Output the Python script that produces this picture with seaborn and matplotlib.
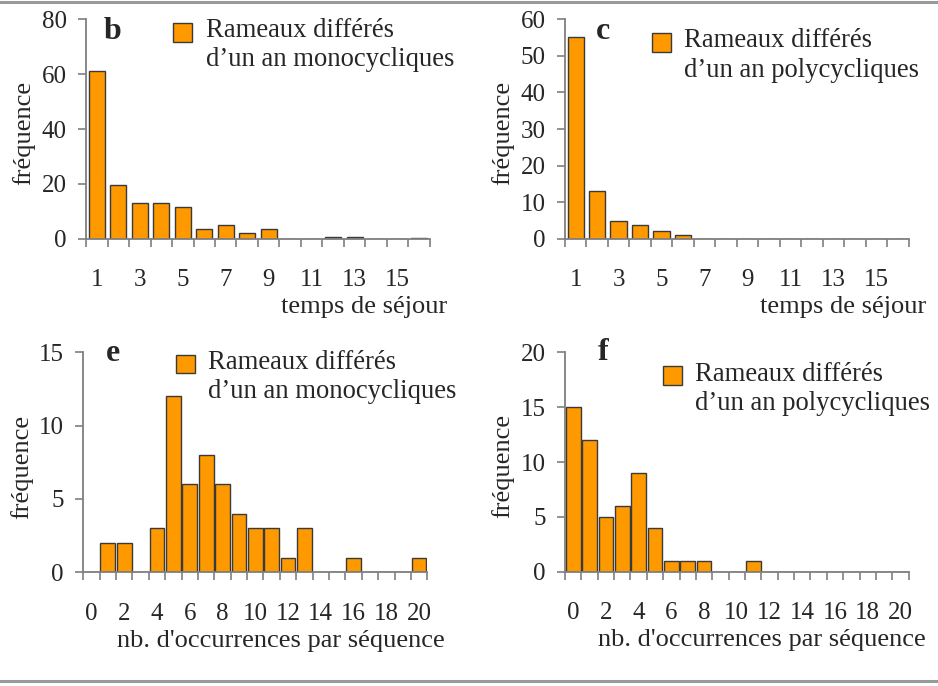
import numpy as np
import matplotlib
matplotlib.use('Agg')
import matplotlib.pyplot as plt
import matplotlib.patches as mpatches
from matplotlib.legend_handler import HandlerPatch
from matplotlib.lines import Line2D
import seaborn as sns

sns.set_style('ticks')
plt.rcParams['font.family'] = ['Liberation Serif', 'DejaVu Serif']

# durée de séjour (panels b, c)
SEJOUR = list(range(1, 17))
MONO_SEJOUR = [61.3, 19.6, 13.2, 13.2, 11.7, 3.5, 5.0, 2.0, 3.4, 0, 0, 0.6, 0.6, 0, 0, 0.4]
POLY_SEJOUR = [55.1, 13.0, 4.8, 3.7, 2.2, 1.0, 0, 0, 0, 0, 0, 0, 0, 0, 0, 0]

# nb. d'occurrences par séquence (panels e, f)
OCC = list(range(0, 21))
MONO_OCC = [0, 2, 2, 0, 3, 12, 6, 8, 6, 4, 3, 3, 1, 3, 0, 0, 1, 0, 0, 0, 1]
POLY_OCC = [15, 12, 5, 6, 9, 4, 1, 1, 1, 0, 0, 1, 0, 0, 0, 0, 0, 0, 0, 0, 0]

LABEL_MONO = 'Rameaux différés\nd’un an monocycliques'
LABEL_POLY = 'Rameaux différés\nd’un an polycycliques'

ORANGE = '#FF9900'
EDGE = '#3a3a3a'
AXIS_GREY = '#7f7f7f'

# (letter, cats, values, legend label, xlabel, ymax, ystep, bar width,
#  axes rect, letter pos, legend anchor)
PANELS = [
    ('b', SEJOUR, MONO_SEJOUR, LABEL_MONO, 'temps de séjour', 80, 20, 0.76,
     [0.0917, 0.652, 0.3667, 0.3198], (0.078, 0.91), (0.253, 1.005)),
    ('c', SEJOUR, POLY_SEJOUR, LABEL_POLY, 'temps de séjour', 60, 10, 0.76,
     [0.6023, 0.652, 0.3664, 0.3198], (0.11, 0.91), (0.252, 0.959)),
    ('e', OCC, MONO_OCC, LABEL_MONO, "nb. d'occurrences par séquence", 15, 5, 0.9,
     [0.0888, 0.1657, 0.3667, 0.3207], (0.086, 0.962), (0.269, 1.01)),
    ('f', OCC, POLY_OCC, LABEL_POLY, "nb. d'occurrences par séquence", 20, 5, 0.9,
     [0.6023, 0.1666, 0.3664, 0.3198], (0.11, 0.965), (0.284, 0.957)),
]


def first_line_patch(legend, orig_handle, xdescent, ydescent, width, height, fontsize):
    # put the swatch next to the first line of the two-line label
    return mpatches.Rectangle((-xdescent, -ydescent + 0.5 * fontsize), width, height)


def draw_panel(fig, letter, cats, vals, label, xlabel, ymax, ystep, width, rect, letter_xy, leg_xy):
    ax = fig.add_axes(rect)
    sns.barplot(x=cats, y=vals, order=cats, color=ORANGE, saturation=1,
                edgecolor=EDGE, linewidth=1.0, width=width, ax=ax)
    n = len(cats)
    ax.set_xlim(-0.5, n - 0.5)
    ax.set_ylim(0, ymax)
    ax.set_yticks(np.arange(0, ymax + 1, ystep))

    # ticks between categories, labels on every other category
    ax.set_xticks(np.arange(n + 1) - 0.5, minor=True)
    ax.set_xticks(np.arange(0, n, 2))
    ax.set_xticklabels([str(c) for c in cats[::2]])
    ax.tick_params(axis='x', which='major', length=0, pad=22, labelsize=18)
    ax.tick_params(axis='x', which='minor', length=6, width=1.2, color=AXIS_GREY, direction='out')
    ax.tick_params(axis='y', length=6, width=1.2, color=AXIS_GREY, pad=8, labelsize=18)

    ax.spines[['top', 'right']].set_visible(False)
    for side in ['left', 'bottom']:
        ax.spines[side].set_color(AXIS_GREY)
        ax.spines[side].set_linewidth(1.3)

    ax.set_xlabel(xlabel, fontsize=19, ha='right', va='center')
    ax.xaxis.set_label_coords(1.05, -0.31)
    ax.set_ylabel('fréquence', fontsize=19, va='center')
    ax.yaxis.set_label_coords(-0.18, 0.48)

    ax.text(letter_xy[0], letter_xy[1], letter, transform=ax.transAxes,
            fontsize=23, fontweight='bold', ha='center', va='baseline')

    handle = mpatches.Patch(facecolor=ORANGE, edgecolor=EDGE, linewidth=1.0)
    leg = ax.legend([handle], [label], loc='upper left', bbox_to_anchor=leg_xy,
                    frameon=False, fontsize=19.2, borderpad=0, borderaxespad=0,
                    handlelength=0.72, handleheight=0.7, handletextpad=0.5,
                    handler_map={mpatches.Patch: HandlerPatch(patch_func=first_line_patch)})
    for t in leg.get_texts():
        t.set_linespacing(1.22)
    return ax


fig = plt.figure(figsize=(9.38, 6.86), dpi=100)
for p in PANELS:
    draw_panel(fig, *p)

# grey rules above and below the figure
for y in [1 - 1.5 / 686, 5.5 / 686]:
    fig.add_artist(Line2D([0, 1], [y, y], transform=fig.transFigure, color='#999999', lw=2.2))

fig.savefig('out.png', dpi=100)
